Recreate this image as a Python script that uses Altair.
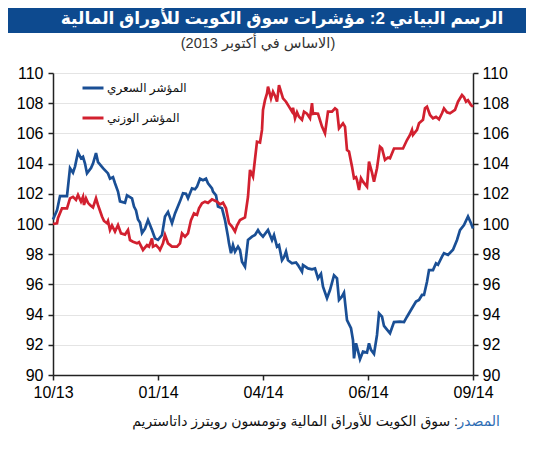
import altair as alt
import pandas as pd

# x = session index (0 = start of Oct 2013 ... 420 = end of Sep 2014)
price_day = [0, 4, 7, 14, 17, 20, 22, 25, 28, 30, 32, 34, 38, 40, 43, 45, 50, 55, 57, 60,
             62, 65, 67, 72, 74, 79, 81, 83, 85, 87, 89, 92, 95, 99, 102, 105, 109, 112, 115, 119,
             122, 127, 130, 133, 135, 139, 142, 144, 147, 150, 153, 155, 159, 160, 163, 165, 169, 172, 175, 176,
             178, 180, 182, 185, 187, 189, 192, 195, 199, 202, 205, 207, 210, 215, 219, 221, 224, 226, 229, 231,
             233, 235, 239, 243, 245, 249, 250, 255, 259, 262, 265, 268, 270, 274, 277, 281, 284, 286, 289, 291,
             294, 298, 300, 301, 303, 305, 307, 310, 314, 316, 318, 321, 324, 326, 329, 331, 334, 337, 341, 347,
             351, 354, 359, 363, 366, 369, 371, 374, 376, 380, 383, 385, 389, 391, 395, 400, 404, 407, 411, 415,
             418, 420]
price_val = [100.3, 100.9, 101.85, 101.85, 103.7, 103.4, 103.8, 104.75, 104.35, 104.45, 104.0, 103.35, 103.7, 104.0, 104.7, 104.1, 103.7, 103.35, 103.0, 103.1,
             102.7, 102.15, 101.5, 101.4, 101.9, 101.7, 101.15, 100.9, 100.3, 100.1, 99.4, 99.7, 100.26, 99.6, 99.05, 98.95, 99.27, 100.5, 100.8, 100.05,
             100.7, 101.5, 102.03, 102.0, 101.7, 102.36, 102.3, 102.47, 103.0, 102.9, 103.0, 102.7, 102.36, 102.15, 101.9, 101.15, 101.04, 100.26, 99.16, 98.72,
             98.06, 98.6, 98.17, 98.5, 98.28, 97.5, 97.17, 98.94, 99.16, 99.27, 99.6, 99.38, 99.16, 99.6, 98.94, 99.27, 98.5, 98.6, 97.6, 97.8,
             98.17, 97.6, 97.4, 97.45, 97.28, 96.84, 97.28, 97.06, 97.0, 97.06, 96.4, 96.7, 95.85, 95.08, 95.63, 96.6, 96.4, 94.97, 95.2, 95.45,
             93.64, 93.1, 92.3, 91.1, 92.1, 91.6, 91.04, 91.55, 91.48, 92.1, 91.66, 91.4, 92.65, 94.08, 93.86, 93.25, 93.0, 92.76, 93.5, 93.53,
             93.5, 93.86, 94.42, 94.86, 94.97, 95.3, 95.3, 96.18, 96.95, 96.95, 97.4, 97.3, 97.84, 98.06, 97.95, 98.3, 98.94, 99.6, 99.93, 100.5,
             100.05, 99.7]

weight_day = [0, 4, 5, 9, 14, 17, 20, 23, 25, 28, 30, 31, 33, 35, 37, 40, 43, 45, 49, 51,
              54, 55, 57, 59, 62, 65, 68, 72, 75, 77, 80, 84, 86, 90, 94, 96, 99, 100, 103, 106,
              107, 110, 112, 115, 119, 124, 127, 129, 132, 135, 138, 141, 144, 146, 149, 152, 155, 159, 164, 167,
              170, 173, 176, 179, 182, 184, 187, 192, 195, 197, 200, 204, 207, 209, 210, 212, 214, 215, 218, 220,
              222, 224, 226, 230, 233, 236, 239, 240, 242, 244, 246, 249, 251, 254, 257, 259, 260, 262, 265, 269,
              272, 275, 279, 282, 284, 286, 290, 292, 294, 296, 299, 301, 303, 304, 306, 308, 310, 314, 316, 319,
              321, 324, 327, 329, 332, 335, 337, 341, 350, 354, 357, 359, 360, 364, 366, 370, 372, 374, 377, 380,
              383, 386, 389, 391, 394, 397, 402, 405, 409, 411, 413, 415, 418, 420]
weight_val = [100.0, 100.05, 100.4, 101.04, 101.04, 101.7, 101.8, 101.6, 101.92, 101.48, 101.8, 101.26, 101.7, 101.4, 101.26, 101.1, 101.7, 101.26, 100.5, 100.2,
              100.05, 100.2, 99.6, 99.9, 99.5, 99.93, 99.38, 99.3, 99.6, 98.94, 98.83, 98.72, 98.8, 98.28, 98.6, 98.5, 99.05, 98.5, 98.6, 98.39,
              98.28, 98.72, 99.27, 98.72, 98.5, 98.5, 98.72, 99.38, 99.16, 99.38, 100.26, 100.7, 100.6, 101.04, 101.37, 101.48, 101.4, 101.63, 101.48, 101.3,
              101.41, 101.04, 100.05, 99.83, 99.5, 99.9, 100.26, 100.44, 101.8, 103.58, 103.13, 105.45, 105.4, 106.23, 107.55, 108.2, 108.65, 109.1, 108.32, 108.76,
              108.5, 108.1, 109.2, 108.32, 108.1, 107.77, 107.44, 107.7, 107.0, 107.4, 107.1, 106.9, 107.44, 107.3, 107.0, 108.0, 107.3, 107.33, 107.3, 106.45,
              106.0, 107.44, 107.44, 107.66, 107.55, 106.34, 106.67, 106.45, 104.9, 104.8, 103.8, 103.03, 103.1, 102.9, 102.25, 103.03, 102.8, 102.47, 104.13, 103.4,
              102.8, 103.69, 105.12, 105.0, 104.24, 104.4, 104.35, 105.0, 105.0, 105.56, 105.9, 106.23, 105.9, 106.23, 106.67, 106.9, 107.66, 107.77, 107.22, 107.0,
              107.1, 106.93, 107.33, 107.66, 107.4, 107.33, 107.55, 108.1, 108.54, 108.4, 108.1, 108.2, 107.88, 107.77]

tick_days = [0, 105, 210, 315, 420]
tick_labels = ["10/13", "01/14", "04/14", "06/14", "09/14"]
y_ticks = list(range(90, 111, 2))

series_names = ["المؤشر السعري", "المؤشر الوزني"]
series_colors = ["#1A4F95", "#D2202F"]

title_text = "الرسم البياني 2: مؤشرات سوق الكويت للأوراق المالية"
subtitle_text = "(الاساس في أكتوبر 2013)"
source_word = "المصدر"
source_rest = "\u200f: سوق الكويت للأوراق المالية وتومسون رويترز داتاستريم"

NUM_FONT = "Liberation Sans"
AR_FONT = "Liberation Sans, DejaVu Sans, sans-serif"

df = pd.concat([
    pd.DataFrame({"day": price_day, "value": price_val, "series": series_names[0]}),
    pd.DataFrame({"day": weight_day, "value": weight_val, "series": series_names[1]}),
], ignore_index=True)

label_expr = " : ".join(f"datum.value == {d} ? '{l}'" for d, l in zip(tick_days, tick_labels)) + " : ''"

x_enc = alt.X("day:Q",
              scale=alt.Scale(domain=[tick_days[0], tick_days[-1]], nice=False, zero=False),
              axis=alt.Axis(values=tick_days, labelExpr=label_expr, grid=False, title=None,
                            domainColor="#222", domainWidth=1.5, tickColor="#222", tickWidth=1.5,
                            tickSize=5, labelFontSize=16, labelFont=NUM_FONT, labelColor="#000",
                            labelPadding=4, labelFlush=False))

y_scale = alt.Scale(domain=[90, 110], nice=False, zero=False)

lines = alt.Chart(df).mark_line(strokeWidth=2.7, interpolate="linear").encode(
    x=x_enc,
    y=alt.Y("value:Q", scale=y_scale,
            axis=alt.Axis(orient="left", values=y_ticks, grid=True, gridColor="#e4e4e4", gridWidth=1,
                          title=None, domainColor="#222", domainWidth=1.5, tickColor="#222",
                          tickWidth=1.5, tickSize=5, labelFontSize=16, labelFont=NUM_FONT,
                          labelColor="#000", labelPadding=5)),
    color=alt.Color("series:N", scale=alt.Scale(domain=series_names, range=series_colors),
                    sort=series_names,
                    legend=alt.Legend(title=None, orient="none", legendX=28, legendY=3,
                                      symbolType="stroke", symbolSize=441, symbolStrokeWidth=3,
                                      labelFont=AR_FONT, labelFontSize=12, labelColor="#111",
                                      labelOffset=2, rowPadding=12, padding=0)),
    order=alt.Order("day:Q"),
)

right_axis = alt.Chart(df).mark_line(opacity=0).encode(
    x=x_enc,
    y=alt.Y("value:Q", scale=y_scale,
            axis=alt.Axis(orient="right", values=y_ticks, grid=False, title=None,
                          domainColor="#222", domainWidth=1.5, tickColor="#222", tickWidth=1.5,
                          tickSize=5, labelFontSize=16, labelFont=NUM_FONT, labelColor="#000",
                          labelPadding=4)),
    detail="series:N",
)

one = pd.DataFrame({"k": [0]})

banner = alt.Chart(one).mark_rect(color="#0D4A8F").encode(
    x=alt.value(-45), x2=alt.value(473), y=alt.value(-65), y2=alt.value(-40))

title = alt.Chart(one).mark_text(align="center", baseline="middle", font=AR_FONT, fontSize=17,
                                 fontWeight="bold", color="white").encode(
    x=alt.value(229), y=alt.value(-54), text=alt.value(title_text))

subtitle = alt.Chart(one).mark_text(align="center", baseline="middle", font=AR_FONT, fontSize=14.5,
                                    color="#333").encode(
    x=alt.value(205), y=alt.value(-29), text=alt.value(subtitle_text))

source_rest_mark = alt.Chart(one).mark_text(align="right", baseline="middle", font=AR_FONT, fontSize=14,
                                            color="#111").encode(
    x=alt.value(405), y=alt.value(349), text=alt.value(source_rest))

source_blue = alt.Chart(one).mark_text(align="right", baseline="middle", font=AR_FONT, fontSize=14,
                                       color="#2E6DB4").encode(
    x=alt.value(447), y=alt.value(349), text=alt.value(source_word))

chart = alt.layer(banner, title, subtitle, lines, right_axis, source_rest_mark, source_blue).resolve_scale(
    y="independent", x="shared"
).properties(
    width=420, height=302,
    autosize=alt.AutoSizeParams(type="none"),
    padding={"left": 45, "top": 65, "right": 53, "bottom": 67},
).configure_view(stroke=None)

chart.save("out.html", embed_options={"renderer": "svg", "actions": False})
